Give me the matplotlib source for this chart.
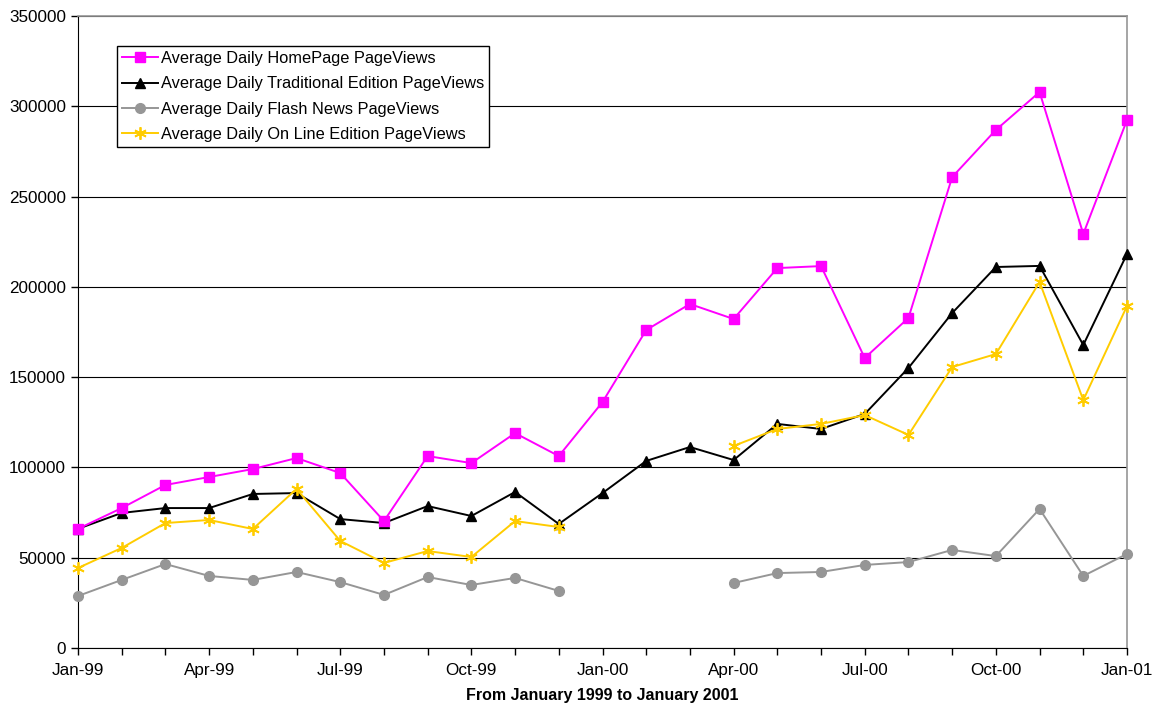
import numpy as np
import matplotlib.pyplot as plt

months = ["Jan-99", "Feb-99", "Mar-99", "Apr-99", "May-99", "Jun-99", "Jul-99", "Aug-99",
          "Sep-99", "Oct-99", "Nov-99", "Dec-99", "Jan-00", "Feb-00", "Mar-00", "Apr-00",
          "May-00", "Jun-00", "Jul-00", "Aug-00", "Sep-00", "Oct-00", "Nov-00", "Dec-00",
          "Jan-01"]
nan = np.nan

homepage = [66000, 77500, 90300, 94700, 99100, 105200, 96900, 70300, 106300, 102400,
            119000, 106300, 136200, 176100, 190500, 182200, 210400, 211500, 160600,
            182800, 260800, 286900, 307900, 229300, 292400]
traditional = [66000, 74800, 77500, 77500, 85300, 85800, 71400, 69200, 78600, 73100,
               86400, 68700, 85800, 103600, 111300, 104100, 124100, 121300, 129600,
               155100, 185500, 211000, 211600, 167800, 218200]
flash = [28800, 37700, 46500, 39900, 37700, 42100, 36500, 29400, 39300, 34900, 38800,
         31600, nan, nan, nan, 36000, 41500, 42100, 46000, 47600, 54300, 50900, 77000,
         39900, 52100]
online = [44300, 55400, 69200, 70900, 65900, 88100, 59300, 47100, 53700, 50400, 70300,
          67000, nan, nan, nan, 111900, 121300, 124100, 129000, 118000, 155600, 162800,
          202700, 137300, 189400]

plt.rcParams['font.family'] = ['Liberation Sans', 'DejaVu Sans']

fig = plt.figure(figsize=(11.57, 7.10), dpi=100)
ax = fig.add_axes([78 / 1157, 1 - 648 / 710, (1127 - 78) / 1157, (648 - 16) / 710])

x = np.arange(len(months))
ax.plot(x, homepage, color='#ff00ff', marker='s', markersize=7, linewidth=1.4,
        clip_on=False, zorder=5, label='Average Daily HomePage PageViews')
ax.plot(x, traditional, color='black', marker='^', markersize=7, linewidth=1.4,
        clip_on=False, zorder=4, label='Average Daily Traditional Edition PageViews')
ax.plot(x, flash, color='#969696', marker='o', markersize=7, linewidth=1.4,
        clip_on=False, zorder=3, label='Average Daily Flash News PageViews')
ax.plot(x, online, color='#ffcc00', marker=(6, 2, 0), markersize=9, linewidth=1.4,
        markeredgewidth=1.3, clip_on=False, zorder=4,
        label='Average Daily On Line Edition PageViews')

ax.set_xlim(0, 24)
ax.set_ylim(0, 350000)
ax.set_yticks(np.arange(0, 350001, 50000))
ax.set_xticks(x, minor=True)
ax.set_xticks(x[::3])
ax.set_xticklabels(months[::3])
ax.tick_params(axis='both', which='both', direction='out', labelsize=12.3, length=5, width=1)
ax.tick_params(axis='x', pad=6)
ax.yaxis.grid(True, color='black', linewidth=0.8)
ax.set_axisbelow(True)

for s in ['top', 'right']:
    ax.spines[s].set_color('#969696')
    ax.spines[s].set_linewidth(1.2)

ax.set_xlabel('From January 1999 to January 2001', fontsize=11.5, fontweight='bold', labelpad=7)

leg = ax.legend(loc='upper left', bbox_to_anchor=(39 / 1049, 1 - 30 / 632), fontsize=11.8,
                frameon=True, fancybox=False, edgecolor='black', framealpha=1,
                handlelength=2.2, borderpad=0.3, labelspacing=0.63, handletextpad=0.2,
                borderaxespad=0)
leg.get_frame().set_linewidth(1)
leg.set_zorder(10)

fig.savefig('out.png', dpi=100)
